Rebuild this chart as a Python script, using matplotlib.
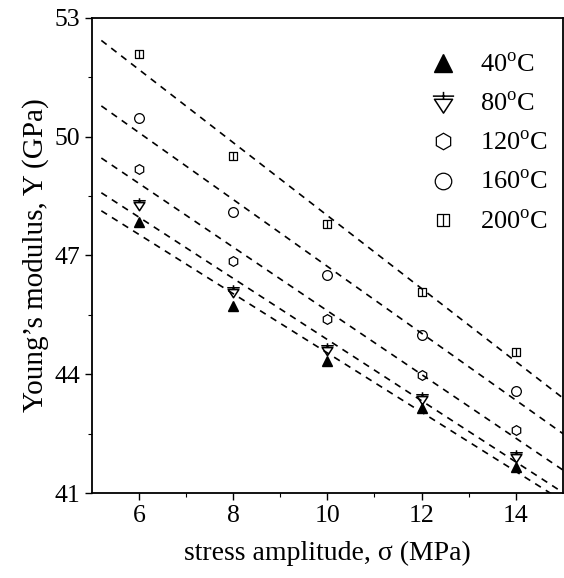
#!/usr/bin/env python3

import numpy as np
import matplotlib
matplotlib.use('Agg')
import matplotlib.pyplot as plt
from matplotlib.path import Path
from matplotlib.ticker import FixedLocator

plt.rcParams['font.family'] = ['Liberation Serif', 'DejaVu Serif']
plt.rcParams['mathtext.fontset'] = 'custom'
plt.rcParams['mathtext.rm'] = 'Liberation Serif'

# stress amplitude (MPa)
stress = [6, 8, 10, 12, 14]

# Young's modulus (GPa) per temperature
y_40 = [47.84, 45.72, 44.34, 43.14, 41.65]
y_80 = [48.31, 46.10, 44.63, 43.41, 41.93]
y_120 = [49.19, 46.86, 45.39, 43.98, 42.59]
y_160 = [50.47, 48.09, 46.50, 44.98, 43.58]
y_200 = [52.08, 49.50, 47.80, 46.09, 44.57]

labels = [r'40$^{\mathrm{o}}$C', r'80$^{\mathrm{o}}$C', r'120$^{\mathrm{o}}$C',
          r'160$^{\mathrm{o}}$C', r'200$^{\mathrm{o}}$C']

xticks = [6, 8, 10, 12, 14]
yticks = [41, 44, 47, 50, 53]

# custom symbols
tri_cross = Path([(0, 1.0), (0, 0.35), (-1.0, 0.6), (1.0, 0.6),
                  (-0.85, 0.3), (0.85, 0.3), (0, -1.0), (-0.85, 0.3)],
                 [Path.MOVETO, Path.LINETO, Path.MOVETO, Path.LINETO,
                  Path.MOVETO, Path.LINETO, Path.LINETO, Path.CLOSEPOLY])
split_sq = Path([(-1, -1), (1, -1), (1, 1), (-1, 1), (-1, -1), (0, -1), (0, 1)],
                [Path.MOVETO, Path.LINETO, Path.LINETO, Path.LINETO,
                 Path.CLOSEPOLY, Path.MOVETO, Path.LINETO])

series = [
    (y_40, dict(marker='^', color='black', markersize=7.5)),
    (y_80, dict(marker=tri_cross, color='black', markerfacecolor='none', markersize=9, mew=1.1)),
    (y_120, dict(marker='h', color='black', markerfacecolor='none', markersize=7, mew=0.9)),
    (y_160, dict(marker='o', color='black', markerfacecolor='none', markersize=7, mew=0.9)),
    (y_200, dict(marker=split_sq, color='black', markerfacecolor='none', markersize=5.5, mew=0.9)),
]

fig = plt.figure(figsize=(5.64, 5.78), dpi=100)
ax = fig.add_axes([0.163, 0.147, 0.835, 0.822])

xfit = np.array([5.2, 15.5])
for (vals, style), lab in zip(series, labels):
    k, b = np.polyfit(stress, vals, 1)
    ax.plot(xfit, k * xfit + b, color='black', lw=1.2, ls=(0, (4, 3.5)))
    ax.plot(stress, vals, ls='none', label=lab, **style)

ax.set_xlim(5, 15)
ax.set_ylim(41, 53)
ax.set_xticks(xticks)
ax.xaxis.set_minor_locator(FixedLocator([7, 9, 11, 13]))
ax.set_yticks(yticks)
ax.yaxis.set_minor_locator(FixedLocator([42.5, 45.5, 48.5, 51.5]))
ax.tick_params(which='major', direction='out', length=5, width=1, labelsize=18.5)
ax.tick_params(which='minor', direction='out', length=3, width=0.8)
for s in ax.spines.values():
    s.set_linewidth(1.3)

ax.set_xlabel('stress amplitude, σ (MPa)', fontsize=20, labelpad=10)
ax.set_ylabel('Young\u2019s modulus, Y (GPa)', fontsize=21, labelpad=4)

ax.legend(loc='upper right', bbox_to_anchor=(1.025, 0.981), frameon=False,
          fontsize=19, markerscale=1.7, handletextpad=0.4, labelspacing=0.57,
          borderaxespad=0.6)

fig.savefig('out.png', dpi=100)
